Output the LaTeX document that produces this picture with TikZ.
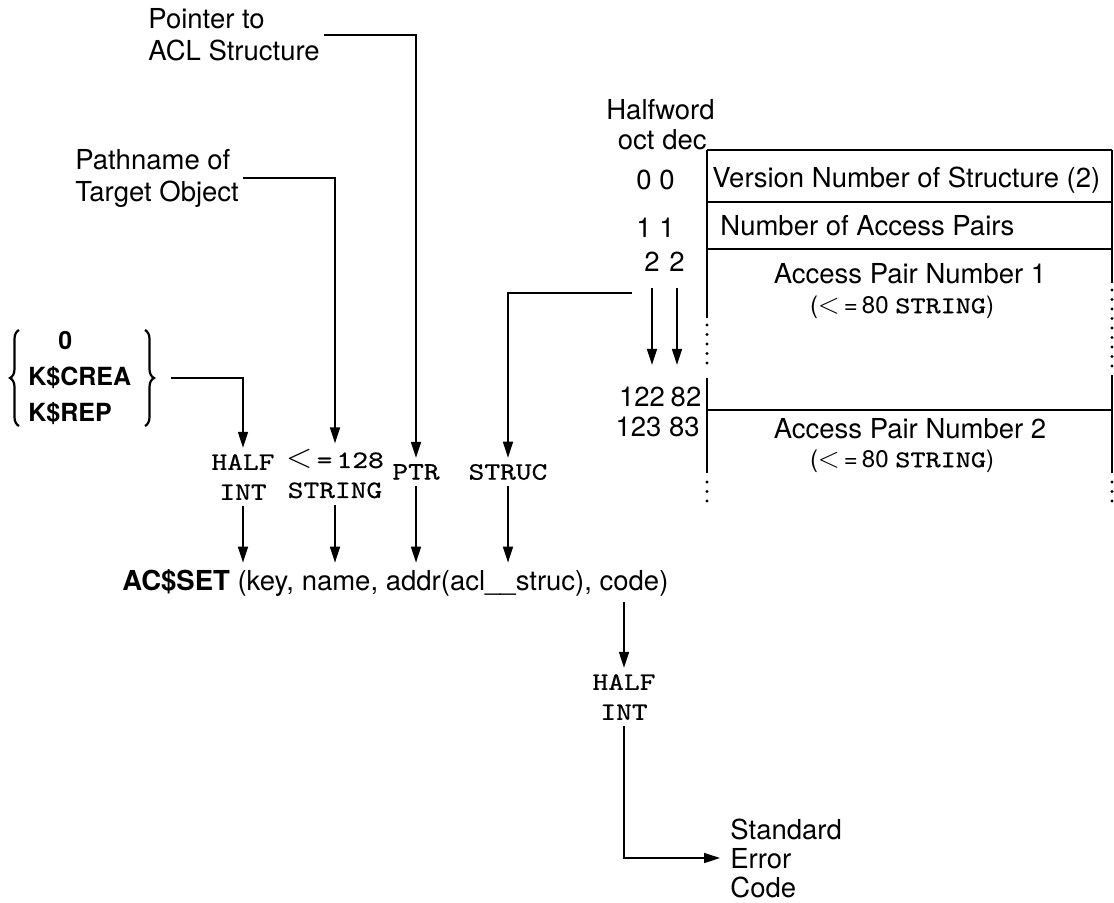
\documentclass[tikz,border=0pt]{standalone}
\usepackage{fontspec}
\setmainfont{TeX Gyre Heros}
\setmonofont{lmmono10-regular}[Extension=.otf, FakeStretch=1.2, FakeBold=0.6]
\usetikzlibrary{arrows.meta,calc,decorations.pathreplacing}
\begin{document}
\begin{tikzpicture}[x=0.5pt,y=-0.5pt,
  lab/.style={font=\fontsize{13.75}{16}\selectfont, inner sep=0pt, align=left},
  lab3/.style={font=\fontsize{13.75}{14.5}\selectfont, inner sep=0pt, align=left},
  key/.style={font=\fontsize{12.5}{16}\selectfont\bfseries, inner sep=0pt, anchor=west},
  mono/.style={font=\ttfamily\fontsize{12.5}{15}\selectfont, inner xsep=0pt, inner ysep=3pt, align=center},
  small/.style={font=\fontsize{12}{13}\selectfont, inner sep=0pt},
  arr/.style={-{Triangle[length=8pt,width=5pt]}, line width=0.75pt},
  ln/.style={line width=0.75pt},
  bracestyle/.style={decorate, decoration={brace, amplitude=4.5pt}, line width=1.1pt},
  dots/.style={line width=1.6pt, line cap=round, dash pattern=on 0pt off 4.75pt}]
\useasboundingbox (0,0) rectangle (1114,902);

% left-side labels
\node[lab, anchor=west] (pointer) at (148,35) {Pointer to\\ACL Structure};
\node[lab, anchor=west] (pathname) at (75,178) {Pathname of\\Target Object};

% key alternatives in braces
\node[key] (k0) at (58,341) {0};
\node[key] (k1) at (28,378) {K\$CREA};
\node[key] (k2) at (28,414) {K\$REP};
\draw[bracestyle] (19,426) -- (19,330);
\draw[bracestyle] (145,330) -- (145,426);
\coordinate (btip) at (171,378);

% type labels
\node[mono] (halfint) at (243,477) {HALF\\INT};
\node[mono] (str) at (335,474) {{\fontsize{17}{15}\selectfont$<$}\,=\,128\\STRING};
\node[mono] (ptr) at (416,472) {PTR};
\node[mono] (struc) at (508,472) {STRUC};

% call
\node[lab, anchor=base west, inner ysep=3pt] (acset) at (122,590)
  {\textbf{AC\$SET} (key, name, addr(acl\_\_struc), code)};
\node[mono] (half2) at (624,697) {HALF\\INT};
\node[lab3, anchor=west] (stdcode) at (730,858) {Standard\\Error\\Code};

% structure header and offsets
\node[lab, anchor=east] (hw) at (715,110) {Halfword};
\node[lab, anchor=east] (octdec) at (707,140) {oct dec};
\node[lab, anchor=east] (n0) at (675,180) {0 0};
\node[lab, anchor=east] (n1) at (675,228) {1 1};
\node[lab] (o2) at (652,262) {2};
\node[lab] (d2) at (677,262) {2};
\node[lab] (o122) at (642,397) {122};
\node[lab] (d82) at (686,397) {82};
\node[lab, anchor=east] (n123) at (700,427) {123 83};

% structure contents
\node[lab, anchor=west] (version) at (712,180) {Version Number of Structure (2)};
\node[lab, anchor=west] (npairs) at (720,226) {Number of Access Pairs};
\node[lab] (ap1) at (910,274) {Access Pair Number 1};
\node[small] (ap1s) at (902,307) {(\smash{\fontsize{15}{15}\selectfont$<$}\,=\,80 {\ttfamily STRING})};
\node[lab] (ap2) at (910,429) {Access Pair Number 2};
\node[small] (ap2s) at (902,461) {(\smash{\fontsize{15}{15}\selectfont$<$}\,=\,80 {\ttfamily STRING})};

% structure box
\draw[ln] (707,150) -- (1112,150);
\draw[ln] (707,202) -- (1112,202);
\draw[ln] (707,249) -- (1112,249);
\draw[ln] (707,410) -- (1112,410);
\draw[ln] (707,150) -- (707,318);
\draw[dots] (707,325) -- (707,372);
\draw[ln] (707,378) -- (707,473);
\draw[dots] (707,482) -- (707,502);
\draw[ln] (1112,150) -- (1112,283);
\draw[dots] (1112,290) -- (1112,368);
\draw[ln] (1112,375) -- (1112,473);
\draw[dots] (1112,482) -- (1112,502);

% connectors
\draw[arr] (btip) -| (halfint.north);
\draw[arr] ([xshift=2pt]pathname.east) -| (str.north);
\draw[arr] ([xshift=2pt]pointer.east) -| (ptr.north);
\coordinate (ssrc) at (632,293);
\draw[arr] (ssrc) -| (struc.north);
\draw[arr] ($(o2.south)+(0,16)$) -- ($(o2.south |- o122.north)+(0,-22)$);
\draw[arr] ($(d2.south)+(0,16)$) -- ($(d2.south |- o122.north)+(0,-22)$);

\draw[arr] (halfint.south) -- (halfint.south |- acset.north);
\draw[arr] (str.south) -- (str.south |- acset.north);
\draw[arr] (ptr.south) -- (ptr.south |- acset.north);
\draw[arr] (struc.south) -- (struc.south |- acset.north);
\draw[arr] (half2.north |- acset.south) -- (half2.north);
\draw[arr] (half2.south) |- ([xshift=-5pt]stdcode.west);
\end{tikzpicture}
\end{document}
